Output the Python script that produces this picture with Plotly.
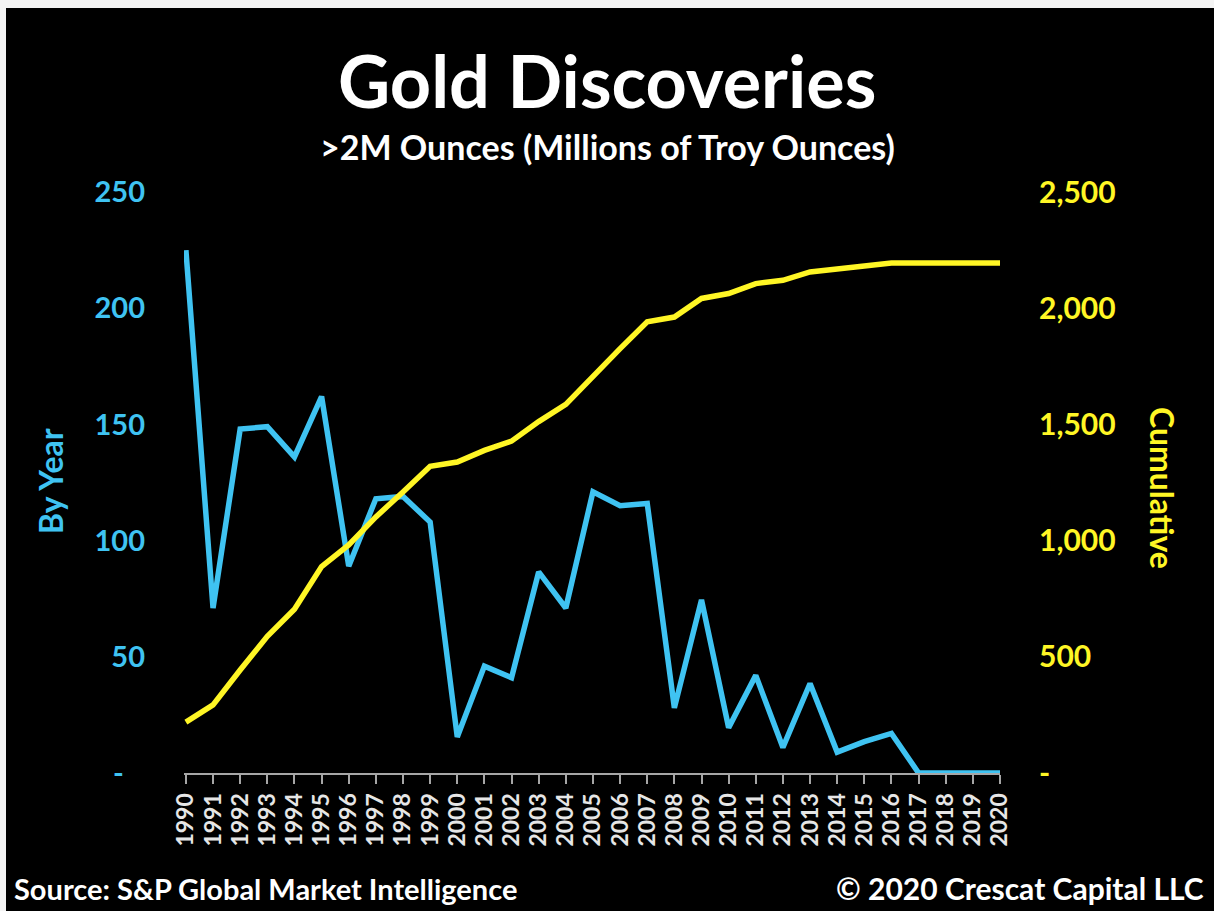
import plotly.graph_objects as go

years = list(range(1990, 2021))
by_year = [225, 71, 148, 149, 136, 162, 89, 118, 119, 108,
           15.5, 46, 41, 86.5, 71, 121, 115, 116, 28, 74.5,
           19.5, 42, 11, 38.5, 9, 13.5, 17, 0, 0, 0, 0]
cumulative = [219, 293, 443, 588, 705, 888, 981, 1102, 1209, 1320,
              1338, 1388, 1428, 1512, 1586, 1708, 1826, 1941, 1962, 2042,
              2063, 2106, 2120, 2156, 2171, 2182, 2194, 2194, 2194, 2194, 2194]

left_ticks = [0, 50, 100, 150, 200, 250]
left_text = ["-\u00a0\u00a0\u00a0", "50", "100", "150", "200", "250"]
right_ticks = [0, 500, 1000, 1500, 2000, 2500]
right_text = ["-", "500", "1,000", "1,500", "2,000", "2,500"]

W, H = 1214, 911
L, R, T, B = 184, 214, 192, 138
PW, PH = W - L - R, H - T - B

def px(x):
    return (x - L) / PW

def py(y):
    return (H - B - y) / PH

BLUE = "#3FC3F2"
YELLOW = "#FFF625"
FONT = "Lato"

fig = go.Figure()
fig.add_trace(go.Scatter(x=years, y=by_year, mode="lines",
                         line=dict(color=BLUE, width=5.5), cliponaxis=False,
                         name="By Year", yaxis="y"))
fig.add_trace(go.Scatter(x=years, y=cumulative, mode="lines",
                         line=dict(color=YELLOW, width=5.5), cliponaxis=False,
                         name="Cumulative", yaxis="y2"))

fig.update_layout(
    width=W, height=H,
    margin=dict(l=L, r=R, t=T, b=B),
    paper_bgcolor="black", plot_bgcolor="black",
    showlegend=False,
    font=dict(family=FONT),
    xaxis=dict(range=[1989.93, 2020], tickmode="array", tickvals=years,
               ticktext=[str(y) for y in years], tickangle=-90,
               tickfont=dict(color="#E6E6E6", size=23, family=FONT, weight="bold"),
               showgrid=False, zeroline=False, showline=True,
               linecolor="#A6A6A6", linewidth=2,
               ticks="outside", ticklen=9, tickcolor="#A6A6A6", tickwidth=1.5),
    yaxis=dict(range=[0, 250], tickmode="array", tickvals=left_ticks, ticktext=left_text,
               tickfont=dict(color=BLUE, size=29, family=FONT, weight="bold"),
               showgrid=False, zeroline=False, showline=False, ticklabelstandoff=38),
    yaxis2=dict(range=[0, 2500], overlaying="y", side="right", tickmode="array",
                tickvals=right_ticks, ticktext=right_text,
                tickfont=dict(color=YELLOW, size=30, family=FONT, weight="bold"),
                showgrid=False, zeroline=False, showline=False, ticklabelstandoff=38),
    shapes=[
        dict(type="rect", xref="paper", yref="paper", x0=px(0), x1=px(W), y0=py(8), y1=py(0),
             fillcolor="#F4F4F4", line=dict(width=0), layer="above"),
        dict(type="rect", xref="paper", yref="paper", x0=px(0), x1=px(6), y0=py(H), y1=py(0),
             fillcolor="#F4F4F4", line=dict(width=0), layer="above"),
    ],
    annotations=[
        dict(text="<b>Gold Discoveries</b>", xref="paper", yref="paper", x=px(607), y=py(80),
             showarrow=False, xanchor="center", yanchor="middle",
             font=dict(color="white", size=72, family=FONT)),
        dict(text="<b>>2M Ounces (Millions of Troy Ounces)</b>", xref="paper", yref="paper",
             x=px(607), y=py(146), showarrow=False, xanchor="center", yanchor="middle",
             font=dict(color="white", size=34, family=FONT)),
        dict(text="<b>By Year</b>", xref="paper", yref="paper", x=px(50), y=py(481),
             showarrow=False, textangle=-90, xanchor="center", yanchor="middle",
             font=dict(color=BLUE, size=32, family=FONT)),
        dict(text="<b>Cumulative</b>", xref="paper", yref="paper", x=px(1163), y=py(488),
             showarrow=False, textangle=90, xanchor="center", yanchor="middle",
             font=dict(color=YELLOW, size=32, family=FONT)),
        dict(text="<b>Source: S&P Global Market Intelligence</b>", xref="paper", yref="paper",
             x=px(12), y=py(888), showarrow=False, xanchor="left", yanchor="middle",
             font=dict(color="white", size=29, family=FONT)),
        dict(text="<b>© 2020 Crescat Capital LLC</b>", xref="paper", yref="paper",
             x=px(1206), y=py(888), showarrow=False, xanchor="right", yanchor="middle",
             font=dict(color="white", size=30, family=FONT)),
    ],
)

fig.write_html("out.html", config={"displayModeBar": False},
               post_script="document.body.style.margin='0px';document.body.style.overflow='hidden';")
